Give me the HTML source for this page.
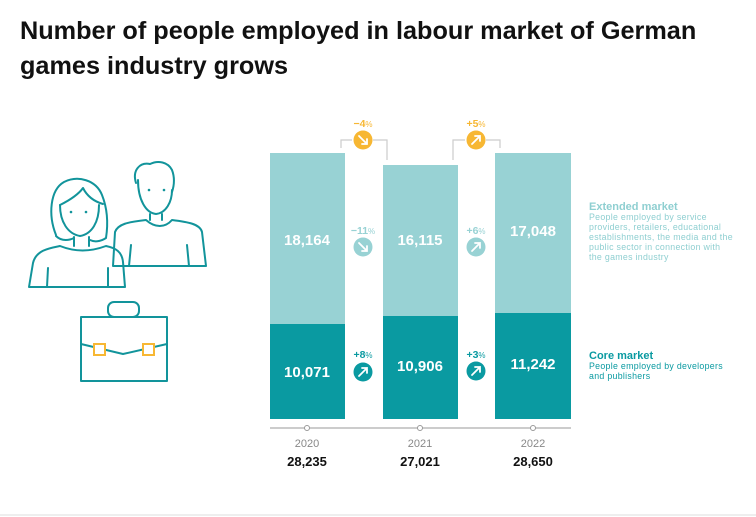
<!DOCTYPE html>
<html><head><meta charset="utf-8"><style>
body{margin:0;background:#fff;width:756px;height:517px;overflow:hidden;font-family:"Liberation Sans",sans-serif;}
h1{position:absolute;left:20px;top:14px;margin:0;font-size:25.25px;line-height:35px;font-weight:bold;color:#111;letter-spacing:0px}
</style></head><body>
<h1>Number of people employed in labour market of German<br>games industry grows</h1>
<svg width="756" height="517" style="position:absolute;left:0;top:0" font-family="Liberation Sans, sans-serif">
<g fill="none" stroke="#12949b" stroke-width="2" stroke-linejoin="round" stroke-linecap="round">
 <path d="M56 235 C48 215 50 190 64 182 C78 175 96 180 102 195 C108 210 108 225 106 238 C100 242 94 242 90 240"/>
 <path d="M60 205 C70 200 78 195 83 188 C88 198 96 202 103 204"/>
 <path d="M60 205 C60 222 68 234 80 236 C92 234 99 222 99 205"/>
 <path d="M56 236 C62 242 70 240 74 238"/>
 <path d="M74 237 L74 246 M89 237 L89 246"/>
 <path d="M29 287 L33 263 C36 250 50 248 60 246 C75 252 90 252 106 246 C116 248 122 252 123 262 L125 287 Z"/>
 <path d="M48 268 L47 287 M108 268 L108 287"/>
 <path d="M136 183 C132 170 140 162 150 164 C158 160 168 162 172 170 C175 178 174 186 172 192"/>
 <path d="M138 180 C138 200 146 213 156 214 C166 213 172 202 172 190"/>
 <path d="M150 214 L150 220 M162 214 L162 220"/>
 <path d="M113 266 L115 232 C118 224 128 222 146 220 C155 228 165 228 172 220 C188 222 200 224 202 232 L206 266 Z"/>
 <path d="M131 245 L129 266 M187 245 L189 266"/>
 <rect x="81" y="317" width="86" height="64"/>
 <rect x="108" y="302" width="31" height="15" rx="6"/>
 <path d="M81 344 L123 354 L167 344"/>
</g>
<g fill="#12949b">
 <circle cx="71" cy="212" r="1.3"/><circle cx="86" cy="212" r="1.3"/>
 <circle cx="149" cy="190" r="1.3"/><circle cx="164" cy="190" r="1.3"/>
</g>
<rect x="94" y="344" width="11" height="11" fill="#fff" stroke="#f7b733" stroke-width="2"/>
<rect x="143" y="344" width="11" height="11" fill="#fff" stroke="#f7b733" stroke-width="2"/>

<rect x="270" y="153" width="75" height="171" fill="#98d2d4"/>
<rect x="270" y="324" width="75" height="95" fill="#0a9aa1"/>
<rect x="383" y="165" width="75" height="151" fill="#98d2d4"/>
<rect x="383" y="316" width="75" height="103" fill="#0a9aa1"/>
<rect x="495" y="153" width="76" height="160" fill="#98d2d4"/>
<rect x="495" y="313" width="76" height="106" fill="#0a9aa1"/>
<g fill="#fff" font-weight="bold" font-size="15" text-anchor="middle">
 <text x="307" y="245">18,164</text><text x="420" y="245">16,115</text><text x="533" y="236">17,048</text>
 <text x="307" y="377">10,071</text><text x="420" y="371">10,906</text><text x="533" y="369">11,242</text>
</g>
<g fill="none" stroke="#ccc" stroke-width="1.2">
 <path d="M341 148 L341 140 L352 140 M373 140 L387 140 L387 160"/>
 <path d="M453 160 L453 140 L465 140 M486 140 L500 140 L500 148"/>
</g>
<g>
 <circle cx="363" cy="140" r="9.5" fill="#f7b733"/>
 <circle cx="476" cy="140" r="9.5" fill="#f7b733"/>
 <circle cx="363" cy="247" r="9.5" fill="#98d2d4"/>
 <circle cx="476" cy="247" r="9.5" fill="#98d2d4"/>
 <circle cx="363" cy="372" r="9.5" fill="#0a9aa1"/>
 <circle cx="476" cy="371" r="9.5" fill="#0a9aa1"/>
</g>
<g stroke="#fff" stroke-width="1.8" fill="none" stroke-linecap="round">
 <path d="M359 136 L367 144 M362 144 L367 144 L367 139"/>
 <path d="M359 243 L367 251 M362 251 L367 251 L367 246"/>
 <path d="M472 144 L480 136 M475 136 L480 136 L480 141"/>
 <path d="M472 251 L480 243 M475 243 L480 243 L480 248"/>
 <path d="M359 376 L367 368 M362 368 L367 368 L367 373"/>
 <path d="M472 375 L480 367 M475 367 L480 367 L480 372"/>
</g>
<g font-size="10.5" font-weight="bold" text-anchor="middle">
 <text x="363" y="127" fill="#f7b733">−4<tspan font-size="8" font-weight="normal">%</tspan></text>
 <text x="476" y="127" fill="#f7b733">+5<tspan font-size="8" font-weight="normal">%</tspan></text>
 <text x="363" y="234" fill="#98d2d4">−11<tspan font-size="8" font-weight="normal">%</tspan></text>
 <text x="476" y="234" fill="#98d2d4">+6<tspan font-size="8" font-weight="normal">%</tspan></text>
 <text x="363" y="358" fill="#0a9aa1">+8<tspan font-size="8" font-weight="normal">%</tspan></text>
 <text x="476" y="358" fill="#0a9aa1">+3<tspan font-size="8" font-weight="normal">%</tspan></text>
</g>
<line x1="270" y1="428" x2="571" y2="428" stroke="#999" stroke-width="1"/>
<g fill="#fff" stroke="#999"><circle cx="307" cy="428" r="2.5"/><circle cx="420" cy="428" r="2.5"/><circle cx="533" cy="428" r="2.5"/></g>
<g text-anchor="middle" font-size="11" fill="#888">
 <text x="307" y="447">2020</text><text x="420" y="447">2021</text><text x="533" y="447">2022</text>
</g>
<g text-anchor="middle" font-size="13" font-weight="bold" fill="#111">
 <text x="307" y="466">28,235</text><text x="420" y="466">27,021</text><text x="533" y="466">28,650</text>
</g>
<text x="589" y="210" font-size="11" font-weight="bold" fill="#8fcfd1">Extended market</text>
<g font-size="8.8" fill="#8fcfd1" letter-spacing="0.3">
 <text x="589" y="220">People employed by service</text>
 <text x="589" y="230">providers, retailers, educational</text>
 <text x="589" y="240">establishments, the media and the</text>
 <text x="589" y="250">public sector in connection with</text>
 <text x="589" y="260">the games industry</text>
</g>
<text x="589" y="359" font-size="11" font-weight="bold" fill="#0a9aa1">Core market</text>
<g font-size="8.8" fill="#0a9aa1" letter-spacing="0.3">
 <text x="589" y="369">People employed by developers</text>
 <text x="589" y="379">and publishers</text>
</g>
<line x1="0" y1="515" x2="756" y2="515" stroke="#eee" stroke-width="2"/>
</svg>
</body></html>
